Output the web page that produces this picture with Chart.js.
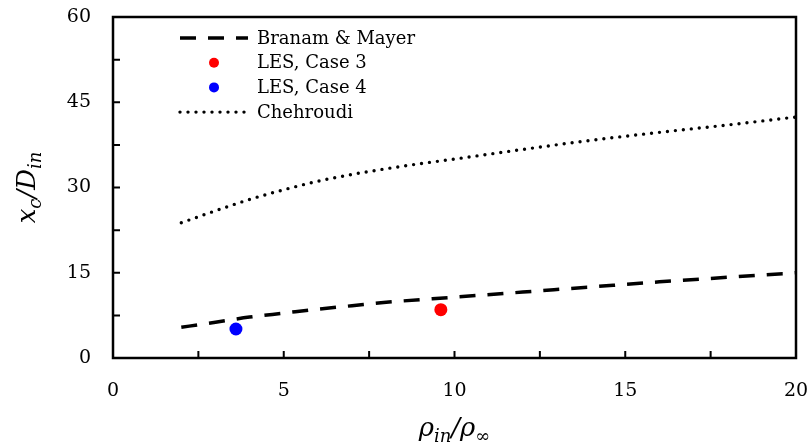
<!DOCTYPE html>
<html>
<head>
<meta charset="utf-8">
<script src="https://cdn.jsdelivr.net/npm/chart.js@4/dist/chart.umd.min.js"></script>
<style>
  html, body { margin: 0; padding: 0; background: #fff; }
  #wrap { width: 812px; height: 446px; position: relative; }
</style>
</head>
<body>
<div id="wrap"><canvas id="c"></canvas></div>
<script>
// Branam & Mayer correlation
const bmX = [2, 3, 4, 5, 6, 7, 8, 10, 12, 14, 16, 18, 20];
const bmY = [5.4, 6.3, 7.2, 7.9, 8.6, 9.2, 9.8, 10.7, 11.6, 12.5, 13.4, 14.2, 15.0];

// Chehroudi correlation
const chX = [2, 3, 4, 5, 6, 7, 8, 9, 10, 12, 14, 16, 18, 20];
const chY = [23.8, 25.9, 27.9, 29.6, 31.1, 32.3, 33.3, 34.2, 35.0, 36.7, 38.3, 39.7, 41.0, 42.4];

// LES results
const case3 = [9.6, 8.5];
const case4 = [3.6, 5.1];

const seriesLabels = ['Branam & Mayer', 'LES, Case 3', 'LES, Case 4', 'Chehroudi'];

const xTicks = [0, 5, 10, 15, 20];
const yTicks = [0, 15, 30, 45, 60];
const xTickMarks = [2.5, 5, 7.5, 10, 12.5, 15, 17.5];
const yTickMarks = [7.5, 15, 22.5, 30, 37.5, 45, 52.5];

const SERIF = "'DejaVu Serif', serif";
const pts = (xs, ys) => xs.map((x, i) => ({ x, y: ys[i] }));

// draws a run of text pieces, some of them as subscripts
function drawRich(ctx, parts, cx, cy) {
  const size = 26, sub = 18;
  const fontOf = p => `${p.italic ? 'italic ' : ''}${p.sub ? sub : size}px ${SERIF}`;
  let w = 0;
  parts.forEach(p => { ctx.font = fontOf(p); w += ctx.measureText(p.t).width; });
  let x = cx - w / 2;
  ctx.textBaseline = 'alphabetic';
  ctx.textAlign = 'left';
  parts.forEach(p => {
    ctx.font = fontOf(p);
    ctx.fillText(p.t, x, cy + (p.sub ? 6 : 0));
    x += ctx.measureText(p.t).width;
  });
}

const framePlugin = {
  id: 'frame',
  afterDatasetsDraw(chart) {
    const { ctx, chartArea: a, scales } = chart;
    ctx.save();
    ctx.strokeStyle = '#000';
    ctx.lineWidth = 2.5;
    ctx.strokeRect(a.left, a.top, a.right - a.left, a.bottom - a.top);

    // inward tick marks
    ctx.lineWidth = 2;
    ctx.beginPath();
    xTickMarks.forEach(v => {
      const px = scales.x.getPixelForValue(v);
      ctx.moveTo(px, a.bottom);
      ctx.lineTo(px, a.bottom - 7);
    });
    yTickMarks.forEach(v => {
      const py = scales.y.getPixelForValue(v);
      ctx.moveTo(a.left, py);
      ctx.lineTo(a.left + 7, py);
    });
    ctx.stroke();

    // axis titles
    ctx.fillStyle = '#000';
    drawRich(ctx, [
      { t: 'ρ', italic: true }, { t: 'in', italic: true, sub: true },
      { t: '/', italic: true }, { t: 'ρ', italic: true }, { t: '∞', sub: true }
    ], (a.left + a.right) / 2, 436);

    ctx.translate(27, (a.top + a.bottom) / 2);
    ctx.rotate(-Math.PI / 2);
    drawRich(ctx, [
      { t: 'x', italic: true }, { t: 'c', italic: true, sub: true },
      { t: '/', italic: true }, { t: 'D', italic: true }, { t: 'in', italic: true, sub: true }
    ], 0, 8);
    ctx.restore();

    // legend inside the plot
    ctx.save();
    const x0 = 180, x1 = 248, tx = 257;
    chart.data.datasets.forEach((ds, i) => {
      const y = 38 + i * 24.7;
      ctx.strokeStyle = '#000';
      if (ds.showLine) {
        ctx.lineWidth = ds.borderWidth;
        ctx.lineCap = ds.borderCapStyle || 'butt';
        ctx.setLineDash(ds.borderDash || []);
        ctx.beginPath();
        ctx.moveTo(x0, y);
        ctx.lineTo(x1, y);
        ctx.stroke();
        ctx.setLineDash([]);
      } else {
        ctx.fillStyle = ds.backgroundColor;
        ctx.beginPath();
        ctx.arc((x0 + x1) / 2, y, 5, 0, Math.PI * 2);
        ctx.fill();
      }
      ctx.fillStyle = '#000';
      ctx.font = `18px ${SERIF}`;
      ctx.textBaseline = 'middle';
      ctx.textAlign = 'left';
      ctx.fillText(ds.label, tx, y + 1);
    });
    ctx.restore();
  }
};

new Chart(document.getElementById('c'), {
  type: 'scatter',
  data: {
    datasets: [
      {
        label: seriesLabels[0],
        data: pts(bmX, bmY),
        showLine: true,
        borderColor: '#000',
        borderWidth: 3.5,
        borderDash: [16, 12],
        pointRadius: 0,
        cubicInterpolationMode: 'monotone'
      },
      {
        label: seriesLabels[1],
        data: [{ x: case3[0], y: case3[1] }],
        backgroundColor: '#ff0000',
        borderWidth: 0,
        pointRadius: 6.5
      },
      {
        label: seriesLabels[2],
        data: [{ x: case4[0], y: case4[1] }],
        backgroundColor: '#0000ff',
        borderWidth: 0,
        pointRadius: 6.5
      },
      {
        label: seriesLabels[3],
        data: pts(chX, chY),
        showLine: true,
        borderColor: '#000',
        borderWidth: 3.4,
        borderDash: [0, 8],
        borderCapStyle: 'round',
        pointRadius: 0,
        cubicInterpolationMode: 'monotone'
      }
    ]
  },
  options: {
    responsive: true,
    maintainAspectRatio: false,
    animation: false,
    layout: { padding: { top: 17, right: 16, left: 0, bottom: 0 } },
    plugins: { legend: { display: false }, tooltip: { enabled: false } },
    scales: {
      x: {
        type: 'linear',
        min: 0, max: 20,
        afterFit: s => { s.height = 88; s.paddingLeft = 0; s.paddingRight = 0; },
        afterBuildTicks: s => { s.ticks = xTicks.map(v => ({ value: v })); },
        grid: { display: false, drawTicks: false },
        border: { display: false },
        ticks: { color: '#000', font: { family: SERIF, size: 19 }, padding: 22, maxRotation: 0 }
      },
      y: {
        type: 'linear',
        min: 0, max: 60,
        afterFit: s => { s.width = 113; s.paddingTop = 0; s.paddingBottom = 0; },
        afterBuildTicks: s => { s.ticks = yTicks.map(v => ({ value: v })); },
        grid: { display: false, drawTicks: false },
        border: { display: false },
        ticks: { color: '#000', font: { family: SERIF, size: 19 }, padding: 22 }
      }
    }
  },
  plugins: [framePlugin]
});
</script>
</body>
</html>
